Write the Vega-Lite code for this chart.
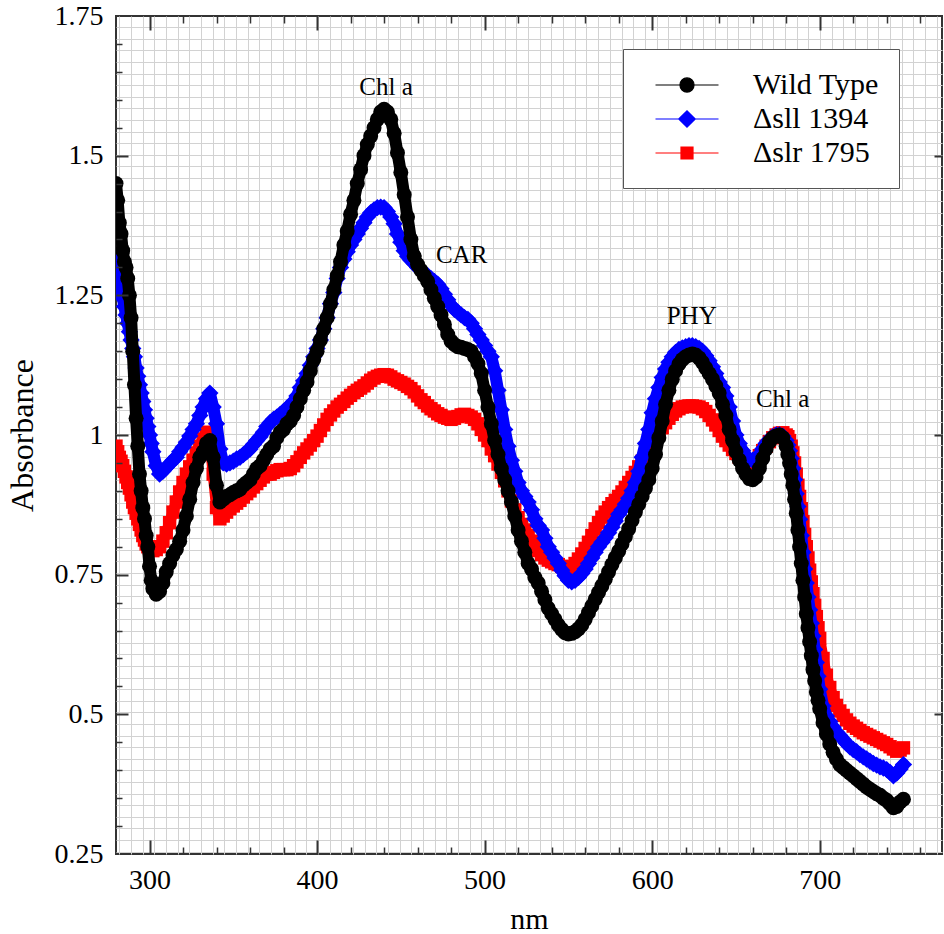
{
"$schema": "https://vega.github.io/schema/vega-lite/v6.json",
"width": 826, "height": 838,
"autosize": {"type": "none"},
"padding": {"left": 116, "top": 16, "right": 2, "bottom": 80},
"background": "white",
"config": {"view": {"stroke": "#333333", "strokeWidth": 2}, "font": "Liberation Serif",
 "axis": {"labelFont": "Liberation Serif", "titleFont": "Liberation Serif"},
 "legend": {"labelFont": "Liberation Serif", "titleFont": "Liberation Serif"},
 "text": {"font": "Liberation Serif"}},
"datasets": {
"spectra": [
{"nm":280,"WT":1.45,"sll":1.31,"slr":0.98},{"nm":281,"WT":1.42,"sll":1.29,"slr":0.97},{"nm":282,"WT":1.38,"sll":1.275,"slr":0.96},{"nm":283,"WT":1.36,"sll":1.26,"slr":0.953},{"nm":284,"WT":1.33,"sll":1.245,"slr":0.945},{"nm":285,"WT":1.31,"sll":1.23,"slr":0.935},{"nm":286,"WT":1.30,"sll":1.215,"slr":0.925},{"nm":287,"WT":1.28,"sll":1.20,"slr":0.915},{"nm":288,"WT":1.25,"sll":1.185,"slr":0.905},{"nm":289,"WT":1.21,"sll":1.17,"slr":0.893},{"nm":290,"WT":1.15,"sll":1.155,"slr":0.88},{"nm":291,"WT":1.09,"sll":1.14,"slr":0.87},{"nm":292,"WT":1.03,"sll":1.12,"slr":0.86},{"nm":293,"WT":0.98,"sll":1.105,"slr":0.85},{"nm":294,"WT":0.93,"sll":1.09,"slr":0.84},{"nm":295,"WT":0.90,"sll":1.075,"slr":0.83},{"nm":296,"WT":0.87,"sll":1.06,"slr":0.82},{"nm":297,"WT":0.85,"sll":1.045,"slr":0.812},{"nm":298,"WT":0.82,"sll":1.03,"slr":0.805},{"nm":299,"WT":0.80,"sll":1.015,"slr":0.80},{"nm":300,"WT":0.765,"sll":1.0,"slr":0.797},{"nm":301,"WT":0.74,"sll":0.985,"slr":0.795},{"nm":302,"WT":0.725,"sll":0.97,"slr":0.793},
{"nm":304,"WT":0.715,"sll":0.945,"slr":0.795},{"nm":306,"WT":0.72,"sll":0.93,"slr":0.80},{"nm":308,"WT":0.735,"sll":0.935,"slr":0.81},{"nm":310,"WT":0.755,"sll":0.942,"slr":0.825},{"nm":312,"WT":0.77,"sll":0.948,"slr":0.843},{"nm":314,"WT":0.785,"sll":0.955,"slr":0.862},{"nm":316,"WT":0.795,"sll":0.96,"slr":0.88},{"nm":318,"WT":0.81,"sll":0.97,"slr":0.898},{"nm":320,"WT":0.83,"sll":0.978,"slr":0.915},{"nm":322,"WT":0.855,"sll":0.987,"slr":0.93},{"nm":324,"WT":0.885,"sll":0.998,"slr":0.943},{"nm":326,"WT":0.915,"sll":1.01,"slr":0.955},{"nm":328,"WT":0.94,"sll":1.02,"slr":0.968},{"nm":330,"WT":0.96,"sll":1.035,"slr":0.98},{"nm":332,"WT":0.97,"sll":1.05,"slr":0.993},{"nm":334,"WT":0.985,"sll":1.065,"slr":1.005},{"nm":336,"WT":0.99,"sll":1.075,"slr":0.99},{"nm":338,"WT":0.96,"sll":1.05,"slr":0.93},{"nm":340,"WT":0.91,"sll":1.02,"slr":0.87},{"nm":342,"WT":0.88,"sll":0.975,"slr":0.85},{"nm":344,"WT":0.885,"sll":0.95,"slr":0.855},{"nm":346,"WT":0.89,"sll":0.948,"slr":0.862},{"nm":348,"WT":0.893,"sll":0.95,"slr":0.868},{"nm":350,"WT":0.897,"sll":0.953,"slr":0.873},{"nm":352,"WT":0.90,"sll":0.957,"slr":0.878},{"nm":354,"WT":0.903,"sll":0.96,"slr":0.883},{"nm":356,"WT":0.91,"sll":0.965,"slr":0.889},{"nm":358,"WT":0.915,"sll":0.97,"slr":0.895},{"nm":360,"WT":0.92,"sll":0.975,"slr":0.90},{"nm":362,"WT":0.93,"sll":0.983,"slr":0.907},{"nm":364,"WT":0.94,"sll":0.99,"slr":0.913},{"nm":366,"WT":0.945,"sll":0.997,"slr":0.919},{"nm":368,"WT":0.955,"sll":1.005,"slr":0.925},{"nm":370,"WT":0.965,"sll":1.015,"slr":0.93},{"nm":372,"WT":0.975,"sll":1.022,"slr":0.93},{"nm":374,"WT":0.98,"sll":1.028,"slr":0.933},{"nm":376,"WT":0.995,"sll":1.032,"slr":0.936},{"nm":378,"WT":1.005,"sll":1.037,"slr":0.938},{"nm":380,"WT":1.01,"sll":1.042,"slr":0.938},{"nm":382,"WT":1.02,"sll":1.048,"slr":0.938},{"nm":384,"WT":1.025,"sll":1.053,"slr":0.94},{"nm":386,"WT":1.035,"sll":1.06,"slr":0.945},{"nm":388,"WT":1.05,"sll":1.07,"slr":0.952},{"nm":390,"WT":1.065,"sll":1.085,"slr":0.96},{"nm":392,"WT":1.08,"sll":1.097,"slr":0.968},{"nm":394,"WT":1.095,"sll":1.11,"slr":0.975},{"nm":396,"WT":1.115,"sll":1.125,"slr":0.982},{"nm":398,"WT":1.135,"sll":1.14,"slr":0.99},{"nm":400,"WT":1.15,"sll":1.155,"slr":0.998},{"nm":402,"WT":1.17,"sll":1.17,"slr":1.008},{"nm":404,"WT":1.19,"sll":1.19,"slr":1.018},{"nm":406,"WT":1.21,"sll":1.21,"slr":1.028},{"nm":408,"WT":1.235,"sll":1.235,"slr":1.036},{"nm":410,"WT":1.26,"sll":1.255,"slr":1.043},{"nm":412,"WT":1.285,"sll":1.28,"slr":1.05},{"nm":414,"WT":1.31,"sll":1.30,"slr":1.055},{"nm":416,"WT":1.34,"sll":1.315,"slr":1.06},{"nm":418,"WT":1.365,"sll":1.328,"slr":1.066},{"nm":420,"WT":1.395,"sll":1.34,"slr":1.071},{"nm":422,"WT":1.42,"sll":1.35,"slr":1.076},{"nm":424,"WT":1.45,"sll":1.36,"slr":1.08},{"nm":426,"WT":1.475,"sll":1.37,"slr":1.084},{"nm":428,"WT":1.50,"sll":1.38,"slr":1.088},{"nm":430,"WT":1.52,"sll":1.39,"slr":1.093},{"nm":432,"WT":1.535,"sll":1.398,"slr":1.098},{"nm":434,"WT":1.55,"sll":1.403,"slr":1.102},{"nm":436,"WT":1.565,"sll":1.407,"slr":1.105},{"nm":438,"WT":1.578,"sll":1.408,"slr":1.107},{"nm":440,"WT":1.583,"sll":1.407,"slr":1.108},{"nm":442,"WT":1.578,"sll":1.40,"slr":1.107},{"nm":444,"WT":1.565,"sll":1.39,"slr":1.104},{"nm":446,"WT":1.54,"sll":1.378,"slr":1.1},{"nm":448,"WT":1.505,"sll":1.36,"slr":1.097},{"nm":450,"WT":1.47,"sll":1.345,"slr":1.094},{"nm":452,"WT":1.43,"sll":1.33,"slr":1.091},{"nm":454,"WT":1.39,"sll":1.32,"slr":1.087},{"nm":456,"WT":1.35,"sll":1.313,"slr":1.083},{"nm":458,"WT":1.32,"sll":1.307,"slr":1.077},{"nm":460,"WT":1.305,"sll":1.30,"slr":1.07},{"nm":462,"WT":1.295,"sll":1.295,"slr":1.063},{"nm":464,"WT":1.285,"sll":1.29,"slr":1.058},{"nm":466,"WT":1.275,"sll":1.285,"slr":1.052},{"nm":468,"WT":1.26,"sll":1.28,"slr":1.047},{"nm":470,"WT":1.245,"sll":1.275,"slr":1.043},{"nm":472,"WT":1.23,"sll":1.27,"slr":1.038},{"nm":474,"WT":1.215,"sll":1.262,"slr":1.035},{"nm":476,"WT":1.198,"sll":1.252,"slr":1.032},{"nm":478,"WT":1.18,"sll":1.242,"slr":1.03},{"nm":480,"WT":1.168,"sll":1.232,"slr":1.028},{"nm":482,"WT":1.162,"sll":1.225,"slr":1.03},{"nm":484,"WT":1.158,"sll":1.22,"slr":1.033},{"nm":486,"WT":1.157,"sll":1.215,"slr":1.036},{"nm":488,"WT":1.155,"sll":1.21,"slr":1.037},{"nm":490,"WT":1.153,"sll":1.207,"slr":1.035},{"nm":492,"WT":1.15,"sll":1.2,"slr":1.032},{"nm":494,"WT":1.14,"sll":1.19,"slr":1.028},{"nm":496,"WT":1.128,"sll":1.18,"slr":1.02},{"nm":498,"WT":1.11,"sll":1.17,"slr":1.01},{"nm":500,"WT":1.08,"sll":1.16,"slr":1.0},{"nm":502,"WT":1.05,"sll":1.15,"slr":0.99},{"nm":504,"WT":1.02,"sll":1.14,"slr":0.975},{"nm":506,"WT":0.99,"sll":1.115,"slr":0.963},{"nm":508,"WT":0.965,"sll":1.08,"slr":0.948},{"nm":510,"WT":0.94,"sll":1.045,"slr":0.933},{"nm":512,"WT":0.92,"sll":1.01,"slr":0.918},{"nm":514,"WT":0.9,"sll":0.98,"slr":0.9},{"nm":516,"WT":0.88,"sll":0.955,"slr":0.882},{"nm":518,"WT":0.855,"sll":0.935,"slr":0.866},{"nm":520,"WT":0.83,"sll":0.915,"slr":0.852},{"nm":522,"WT":0.81,"sll":0.9,"slr":0.84},{"nm":524,"WT":0.79,"sll":0.89,"slr":0.83},{"nm":526,"WT":0.77,"sll":0.88,"slr":0.82},{"nm":528,"WT":0.76,"sll":0.866,"slr":0.81},{"nm":530,"WT":0.745,"sll":0.85,"slr":0.80},{"nm":532,"WT":0.735,"sll":0.838,"slr":0.793},{"nm":534,"WT":0.72,"sll":0.83,"slr":0.786},{"nm":536,"WT":0.705,"sll":0.815,"slr":0.78},{"nm":538,"WT":0.69,"sll":0.8,"slr":0.776},{"nm":540,"WT":0.68,"sll":0.79,"slr":0.773},{"nm":542,"WT":0.67,"sll":0.78,"slr":0.77},{"nm":544,"WT":0.66,"sll":0.77,"slr":0.768},{"nm":546,"WT":0.652,"sll":0.758,"slr":0.765},{"nm":548,"WT":0.646,"sll":0.748,"slr":0.763},{"nm":550,"WT":0.644,"sll":0.74,"slr":0.762},{"nm":552,"WT":0.645,"sll":0.737,"slr":0.764},{"nm":554,"WT":0.648,"sll":0.74,"slr":0.77},{"nm":556,"WT":0.653,"sll":0.745,"slr":0.778},{"nm":558,"WT":0.66,"sll":0.752,"slr":0.787},{"nm":560,"WT":0.67,"sll":0.76,"slr":0.797},{"nm":562,"WT":0.682,"sll":0.77,"slr":0.808},{"nm":564,"WT":0.694,"sll":0.78,"slr":0.82},{"nm":566,"WT":0.706,"sll":0.79,"slr":0.832},{"nm":568,"WT":0.718,"sll":0.8,"slr":0.843},{"nm":570,"WT":0.73,"sll":0.808,"slr":0.853},{"nm":572,"WT":0.742,"sll":0.816,"slr":0.862},{"nm":574,"WT":0.755,"sll":0.825,"slr":0.87},{"nm":576,"WT":0.768,"sll":0.835,"slr":0.877},{"nm":578,"WT":0.78,"sll":0.846,"slr":0.883},{"nm":580,"WT":0.792,"sll":0.858,"slr":0.89},{"nm":582,"WT":0.805,"sll":0.866,"slr":0.898},{"nm":584,"WT":0.818,"sll":0.876,"slr":0.906},{"nm":586,"WT":0.832,"sll":0.887,"slr":0.915},{"nm":588,"WT":0.847,"sll":0.9,"slr":0.924},{"nm":590,"WT":0.862,"sll":0.915,"slr":0.933},{"nm":592,"WT":0.876,"sll":0.935,"slr":0.943},{"nm":594,"WT":0.89,"sll":0.96,"slr":0.953},{"nm":596,"WT":0.905,"sll":0.985,"slr":0.963},{"nm":598,"WT":0.92,"sll":1.01,"slr":0.973},{"nm":600,"WT":0.94,"sll":1.04,"slr":0.983},{"nm":602,"WT":0.965,"sll":1.065,"slr":0.993},{"nm":604,"WT":0.995,"sll":1.085,"slr":1.003},{"nm":606,"WT":1.025,"sll":1.103,"slr":1.013},{"nm":608,"WT":1.055,"sll":1.118,"slr":1.022},{"nm":610,"WT":1.08,"sll":1.13,"slr":1.03},{"nm":612,"WT":1.1,"sll":1.14,"slr":1.037},{"nm":614,"WT":1.115,"sll":1.148,"slr":1.043},{"nm":616,"WT":1.127,"sll":1.153,"slr":1.047},{"nm":618,"WT":1.135,"sll":1.156,"slr":1.05},{"nm":620,"WT":1.14,"sll":1.158,"slr":1.051},{"nm":622,"WT":1.143,"sll":1.16,"slr":1.052},{"nm":624,"WT":1.145,"sll":1.16,"slr":1.052},{"nm":626,"WT":1.143,"sll":1.158,"slr":1.051},{"nm":628,"WT":1.138,"sll":1.155,"slr":1.05},{"nm":630,"WT":1.13,"sll":1.15,"slr":1.047},{"nm":632,"WT":1.12,"sll":1.142,"slr":1.042},{"nm":634,"WT":1.11,"sll":1.133,"slr":1.035},{"nm":636,"WT":1.1,"sll":1.122,"slr":1.027},{"nm":638,"WT":1.088,"sll":1.11,"slr":1.018},{"nm":640,"WT":1.075,"sll":1.095,"slr":1.008},{"nm":642,"WT":1.055,"sll":1.085,"slr":0.998},{"nm":644,"WT":1.035,"sll":1.07,"slr":0.99},{"nm":646,"WT":1.01,"sll":1.05,"slr":0.982},{"nm":648,"WT":0.99,"sll":1.025,"slr":0.974},{"nm":650,"WT":0.97,"sll":1.0,"slr":0.967},{"nm":652,"WT":0.955,"sll":0.985,"slr":0.96},{"nm":654,"WT":0.94,"sll":0.972,"slr":0.955},{"nm":656,"WT":0.93,"sll":0.962,"slr":0.95},{"nm":658,"WT":0.922,"sll":0.956,"slr":0.948},{"nm":660,"WT":0.92,"sll":0.955,"slr":0.948},{"nm":662,"WT":0.925,"sll":0.958,"slr":0.953},{"nm":664,"WT":0.94,"sll":0.965,"slr":0.963},{"nm":666,"WT":0.958,"sll":0.975,"slr":0.972},{"nm":668,"WT":0.975,"sll":0.985,"slr":0.98},{"nm":670,"WT":0.988,"sll":0.992,"slr":0.988},{"nm":672,"WT":0.995,"sll":0.997,"slr":0.995},{"nm":674,"WT":0.998,"sll":1.0,"slr":1.0},{"nm":676,"WT":1.0,"sll":1.0,"slr":1.003},{"nm":678,"WT":0.995,"sll":0.998,"slr":1.004},
{"nm":680,"WT":0.98,"sll":0.99,"slr":1.0},{"nm":681,"WT":0.965,"sll":0.982,"slr":0.997},{"nm":682,"WT":0.95,"sll":0.972,"slr":0.99},{"nm":683,"WT":0.93,"sll":0.958,"slr":0.98},{"nm":684,"WT":0.91,"sll":0.94,"slr":0.968},{"nm":685,"WT":0.885,"sll":0.92,"slr":0.95},{"nm":686,"WT":0.86,"sll":0.895,"slr":0.93},{"nm":687,"WT":0.83,"sll":0.872,"slr":0.91},{"nm":688,"WT":0.80,"sll":0.849,"slr":0.89},{"nm":689,"WT":0.77,"sll":0.82,"slr":0.868},{"nm":690,"WT":0.74,"sll":0.79,"slr":0.845},{"nm":691,"WT":0.71,"sll":0.76,"slr":0.822},{"nm":692,"WT":0.68,"sll":0.735,"slr":0.80},{"nm":693,"WT":0.655,"sll":0.71,"slr":0.78},{"nm":694,"WT":0.63,"sll":0.687,"slr":0.758},{"nm":695,"WT":0.605,"sll":0.663,"slr":0.737},{"nm":696,"WT":0.58,"sll":0.64,"slr":0.716},{"nm":697,"WT":0.56,"sll":0.616,"slr":0.695},{"nm":698,"WT":0.54,"sll":0.593,"slr":0.675},{"nm":699,"WT":0.525,"sll":0.568,"slr":0.655},{"nm":700,"WT":0.51,"sll":0.545,"slr":0.636},
{"nm":702,"WT":0.485,"sll":0.515,"slr":0.6},{"nm":704,"WT":0.465,"sll":0.497,"slr":0.57},{"nm":706,"WT":0.447,"sll":0.487,"slr":0.548},{"nm":708,"WT":0.432,"sll":0.477,"slr":0.53},{"nm":710,"WT":0.42,"sll":0.468,"slr":0.516},{"nm":712,"WT":0.41,"sll":0.462,"slr":0.506},{"nm":714,"WT":0.405,"sll":0.455,"slr":0.498},{"nm":716,"WT":0.40,"sll":0.448,"slr":0.49},{"nm":718,"WT":0.395,"sll":0.442,"slr":0.484},{"nm":720,"WT":0.39,"sll":0.437,"slr":0.479},{"nm":722,"WT":0.385,"sll":0.433,"slr":0.475},{"nm":724,"WT":0.38,"sll":0.428,"slr":0.471},{"nm":726,"WT":0.375,"sll":0.424,"slr":0.467},{"nm":728,"WT":0.37,"sll":0.42,"slr":0.464},{"nm":730,"WT":0.366,"sll":0.416,"slr":0.461},{"nm":732,"WT":0.362,"sll":0.412,"slr":0.458},{"nm":734,"WT":0.358,"sll":0.409,"slr":0.455},{"nm":736,"WT":0.355,"sll":0.406,"slr":0.452},{"nm":738,"WT":0.35,"sll":0.404,"slr":0.449},{"nm":740,"WT":0.346,"sll":0.401,"slr":0.446},{"nm":742,"WT":0.34,"sll":0.396,"slr":0.442},{"nm":744,"WT":0.333,"sll":0.39,"slr":0.438},{"nm":746,"WT":0.335,"sll":0.395,"slr":0.434},{"nm":748,"WT":0.343,"sll":0.402,"slr":0.436},{"nm":750,"WT":0.348,"sll":0.41,"slr":0.44}
],
"notes": [
{"label":"Chl a","nm":441.2,"A":1.623},{"label":"CAR","nm":486.3,"A":1.322},{"label":"PHY","nm":623.6,"A":1.213},{"label":"Chl a","nm":677.9,"A":1.064}
]
},
"resolve": {"axis": {"x": "independent", "y": "independent"}, "legend": {"color": "independent", "shape": "independent"}},
"layer": [
{
"data": {"name": "spectra"},
"transform": [{"fold": ["WT","sll","slr"], "as": ["series","A"]}, {"filter": "datum.series == 'slr'"}],
"mark": {"type": "line", "strokeWidth": 11, "color": "#ff0000", "strokeJoin": "round", "strokeCap": "round", "clip": true},
"encoding": {
"x": {"field": "nm", "type": "quantitative", "scale": {"domain": [280,773], "nice": false, "zero": false},
 "axis": {"orient": "bottom", "grid": true, "gridColor": "#d2d2d2", "gridWidth": 1, "ticks": false, "labels": false, "domain": false, "title": null, "zindex": 0,
 "values": [282,288.97,295.94,302.91,309.88,316.85,323.82,330.79,337.76,344.73,351.7,358.67,365.64,372.61,379.58,386.55,393.52,400.49,407.46,414.43,421.4,428.37,435.34,442.31,449.28,456.25,463.22,470.19,477.16,484.13,491.1,498.07,505.04,512.01,518.98,525.95,532.92,539.89,546.86,553.83,560.8,567.77,574.74,581.71,588.68,595.65,602.62,609.59,616.56,623.53,630.5,637.47,644.44,651.41,658.38,665.35,672.32,679.29,686.26,693.23,700.2,707.17,714.14,721.11,728.08,735.05,742.02,748.99,755.96,762.93,769.9]}},
"y": {"field": "A", "type": "quantitative", "scale": {"domain": [0.25,1.75], "nice": false, "zero": false},
 "axis": {"orient": "left", "grid": true, "gridColor": "#d2d2d2", "gridWidth": 1, "ticks": false, "labels": false, "domain": false, "title": null, "zindex": 0,
 "values": [0.2541,0.2749,0.2957,0.3165,0.3373,0.358,0.3788,0.3996,0.4204,0.4412,0.462,0.4828,0.5036,0.5244,0.5451,0.5659,0.5867,0.6075,0.6283,0.6491,0.6699,0.6907,0.7115,0.7322,0.753,0.7738,0.7946,0.8154,0.8362,0.857,0.8778,0.8986,0.9193,0.9401,0.9609,0.9817,1.0025,1.0233,1.0441,1.0649,1.0857,1.1064,1.1272,1.148,1.1688,1.1896,1.2104,1.2312,1.252,1.2728,1.2936,1.3143,1.3351,1.3559,1.3767,1.3975,1.4183,1.4391,1.4599,1.4807,1.5014,1.5222,1.543,1.5638,1.5846,1.6054,1.6262,1.647,1.6678,1.6885,1.7093,1.7301]}},
"order": {"field": "nm", "type": "quantitative"}
}
},
{
"data": {"name": "spectra"},
"transform": [{"fold": ["WT","sll","slr"], "as": ["series","A"]}, {"filter": "datum.series == 'slr'"}],
"mark": {"type": "point", "shape": "square", "filled": true, "size": 180, "opacity": 1, "color": "#ff0000", "strokeWidth": 0, "clip": true},
"encoding": {
"x": {"field": "nm", "type": "quantitative", "scale": {"domain": [280,773], "nice": false, "zero": false},
 "axis": {"orient": "bottom", "values": [300,400,500,600,700], "ticks": false, "domain": false, "grid": false, "format": ".0f", "labelFont": "Liberation Serif", "labelFontSize": 28, "labelColor": "#000000", "labelPadding": 12, "title": "nm", "titleFont": "Liberation Serif", "titleFontSize": 30, "titleFontWeight": "normal", "titleColor": "#000000", "titlePadding": 10, "zindex": 1}},
"y": {"field": "A", "type": "quantitative", "scale": {"domain": [0.25,1.75], "nice": false, "zero": false},
 "axis": {"orient": "left", "values": [0.25,0.5,0.75,1,1.25,1.5,1.75], "ticks": false, "domain": false, "grid": false, "format": ".2~f", "labelFont": "Liberation Serif", "labelFontSize": 28, "labelColor": "#000000", "labelPadding": 13, "title": "Absorbance", "titleFont": "Liberation Serif", "titleFontSize": 32, "titleFontWeight": "normal", "titleColor": "#000000", "titlePadding": 15, "zindex": 1}}
}
},
{
"data": {"name": "spectra"},
"transform": [{"fold": ["WT","sll","slr"], "as": ["series","A"]}, {"filter": "datum.series == 'sll'"}],
"mark": {"type": "line", "strokeWidth": 12, "color": "#0000ff", "strokeJoin": "round", "strokeCap": "round", "clip": true},
"encoding": {
"x": {"field": "nm", "type": "quantitative", "scale": {"domain": [280,773], "nice": false, "zero": false}, "axis": null},
"y": {"field": "A", "type": "quantitative", "scale": {"domain": [0.25,1.75], "nice": false, "zero": false}, "axis": null},
"order": {"field": "nm", "type": "quantitative"}
}
},
{
"data": {"name": "spectra"},
"transform": [{"fold": ["WT","sll","slr"], "as": ["series","A"]}, {"filter": "datum.series == 'sll'"}],
"mark": {"type": "point", "shape": "diamond", "filled": true, "size": 300, "opacity": 1, "color": "#0000ff", "strokeWidth": 0, "clip": true},
"encoding": {
"x": {"field": "nm", "type": "quantitative", "scale": {"domain": [280,773], "nice": false, "zero": false},
 "axis": {"orient": "bottom", "offset": -14, "values": [300,400,500,600,700], "ticks": true, "tickSize": 14, "tickWidth": 2, "tickColor": "#333333", "labels": false, "domain": false, "grid": false, "title": null, "zindex": 2}},
"y": {"field": "A", "type": "quantitative", "scale": {"domain": [0.25,1.75], "nice": false, "zero": false},
 "axis": {"orient": "left", "offset": -12, "values": [0.5,0.75,1,1.25,1.5], "ticks": true, "tickSize": 12, "tickWidth": 2, "tickColor": "#333333", "labels": false, "domain": false, "grid": false, "title": null, "zindex": 2}}
}
},
{
"data": {"name": "spectra"},
"transform": [{"fold": ["WT","sll","slr"], "as": ["series","A"]}, {"filter": "datum.series == 'WT'"}],
"mark": {"type": "line", "strokeWidth": 12, "color": "#000000", "strokeJoin": "round", "strokeCap": "round", "clip": true},
"encoding": {
"x": {"field": "nm", "type": "quantitative", "scale": {"domain": [280,773], "nice": false, "zero": false}, "axis": null},
"y": {"field": "A", "type": "quantitative", "scale": {"domain": [0.25,1.75], "nice": false, "zero": false}, "axis": null},
"order": {"field": "nm", "type": "quantitative"}
}
},
{
"data": {"name": "spectra"},
"transform": [{"fold": ["WT","sll","slr"], "as": ["series","A"]}, {"filter": "datum.series == 'WT'"}],
"mark": {"type": "point", "shape": "circle", "filled": true, "size": 225, "opacity": 1, "color": "#000000", "strokeWidth": 0, "clip": true},
"encoding": {
"x": {"field": "nm", "type": "quantitative", "scale": {"domain": [280,773], "nice": false, "zero": false},
 "axis": {"orient": "bottom", "offset": -7, "values": [320,340,360,380,420,440,460,480,520,540,560,580,620,640,660,680,720,740,760], "ticks": true, "tickSize": 7, "tickWidth": 1.5, "tickColor": "#333333", "labels": false, "domain": false, "grid": false, "title": null, "zindex": 2}},
"y": {"field": "A", "type": "quantitative", "scale": {"domain": [0.25,1.75], "nice": false, "zero": false},
 "axis": {"orient": "left", "offset": -6, "values": [0.3,0.35,0.4,0.45,0.55,0.6,0.65,0.7,0.8,0.85,0.9,0.95,1.05,1.1,1.15,1.2,1.3,1.35,1.4,1.45,1.55,1.6,1.65,1.7], "ticks": true, "tickSize": 6, "tickWidth": 1.5, "tickColor": "#333333", "labels": false, "domain": false, "grid": false, "title": null, "zindex": 2}}
}
},
{
"data": {"name": "spectra"},
"transform": [{"fold": ["WT","sll","slr"], "as": ["series","A"]}, {"filter": "datum.nm == 750"}],
"mark": {"type": "point", "filled": true, "size": 900, "opacity": 0},
"encoding": {
"x": {"field": "nm", "type": "quantitative", "scale": {"domain": [280,773], "nice": false, "zero": false},
 "axis": {"orient": "top", "offset": -14, "values": [300,400,500,600,700], "ticks": true, "tickSize": 14, "tickWidth": 2, "tickColor": "#333333", "labels": false, "domain": false, "grid": false, "title": null, "zindex": 2}},
"y": {"field": "A", "type": "quantitative", "scale": {"domain": [0.25,1.75], "nice": false, "zero": false},
 "axis": {"orient": "right", "offset": -8, "values": [0.5,1,1.5], "ticks": true, "tickSize": 8, "tickWidth": 2, "tickColor": "#333333", "labels": false, "domain": false, "grid": false, "title": null, "zindex": 2}},
"color": {"field": "series", "type": "nominal", "scale": {"domain": ["WT","sll","slr"], "range": ["#000000","#0000ff","#ff0000"]},
 "legend": {"orient": "none", "legendX": 507, "legendY": 33, "title": null,
  "labelExpr": "datum.value == 'WT' ? 'Wild Type' : datum.value == 'sll' ? 'Δsll 1394' : 'Δslr 1795'",
  "labelFont": "Liberation Serif", "labelFontSize": 30, "labelColor": "#000000",
  "symbolSize": 900, "symbolOpacity": 1, "symbolStrokeWidth": 1.2, "rowPadding": 3, "labelOffset": 50, "symbolOffset": 28,
  "padding": 20, "strokeColor": "#555555", "fillColor": "#ffffff", "cornerRadius": 0,
  "encode": {"symbols": {"update": {"stroke": {"scale": "color", "field": "value"}}}}}},
"shape": {"field": "series", "type": "nominal", "scale": {"domain": ["WT","sll","slr"], "range": [
 "M-2.1,0H2.1M-0.47,0A0.47,0.47 0 1,0 0.47,0A0.47,0.47 0 1,0 -0.47,0Z",
 "M-2.1,0H2.1M-0.55,0L0,-0.55L0.55,0L0,0.55Z",
 "M-2.1,0H2.1M-0.4,-0.4H0.4V0.4H-0.4Z"]}}
}
},
{
"data": {"name": "notes"},
"mark": {"type": "text", "font": "Liberation Serif", "fontSize": 25, "color": "#000000", "align": "center", "baseline": "middle"},
"encoding": {
"x": {"field": "nm", "type": "quantitative", "scale": {"domain": [280,773], "nice": false, "zero": false},
 "axis": {"orient": "top", "offset": -7, "values": [320,340,360,380,420,440,460,480,520,540,560,580,620,640,660,680,720,740,760], "ticks": true, "tickSize": 7, "tickWidth": 1.5, "tickColor": "#333333", "labels": false, "domain": false, "grid": false, "title": null, "zindex": 2}},
"y": {"field": "A", "type": "quantitative", "scale": {"domain": [0.25,1.75], "nice": false, "zero": false}, "axis": null},
"text": {"field": "label", "type": "nominal"}
}
}
]
}
